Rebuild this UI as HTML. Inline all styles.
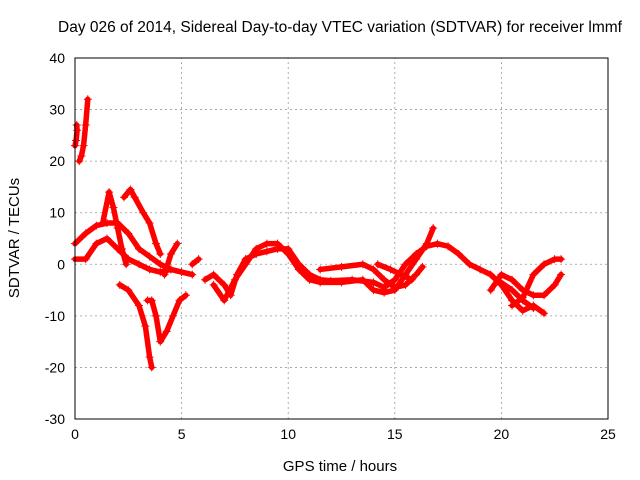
<!DOCTYPE html>
<html><head><meta charset="utf-8"><style>
body{margin:0;background:#fff;}
svg{display:block;font-family:"Liberation Sans",sans-serif;font-size:14px;}
</style></head><body>
<svg id="chart" width="640" height="480" xmlns="http://www.w3.org/2000/svg">
<text x="340" y="32" text-anchor="middle" style="font-size:15.5px">Day 026 of 2014, Sidereal Day-to-day VTEC variation (SDTVAR) for receiver lmmf</text>
<text x="340" y="471" text-anchor="middle" style="font-size:15px">GPS time / hours</text>
<text transform="translate(19,238) rotate(-90)" text-anchor="middle" style="font-size:15px">SDTVAR / TECUs</text>
<g id="grid"></g><g id="data"></g>
<rect x="75" y="58" width="533" height="361" fill="none" stroke="#000"/>
</svg>
<script>
const xTicks=[0,5,10,15,20,25];
const yTicks=[-30,-20,-10,0,10,20,30,40];
const track1=[[0,23],[0.05,24],[0.1,26],[0.08,27]];
const track2=[[0.2,20],[0.3,21],[0.4,23],[0.5,27],[0.6,32]];
const track3=[[0,4],[0.5,6],[1,7.5],[1.5,8],[2,8],[2.5,6],[3,3],[3.5,1.5],[4,0],[4.5,-1],[5,-1.5],[5.5,-2]];
const track4=[[0,1],[0.5,1],[1,4],[1.5,5],[2,3],[2.5,1],[3,0],[3.5,-1],[4,-1.5],[4.5,-1]];
const track5=[[1.3,8],[1.6,14],[1.8,11],[2,7],[2.2,3],[2.4,0]];
const track6=[[2.3,13],[2.6,14.5],[2.8,13],[3.2,10],[3.5,8],[3.8,4],[4,2]];
const track7=[[2.1,-4],[2.5,-5],[3,-8],[3.3,-12],[3.5,-18],[3.6,-20]];
const track8=[[3.4,-7],[3.6,-7],[3.8,-10],[4,-15],[4.3,-13],[4.6,-10],[4.9,-7],[5.2,-6]];
const track9=[[4.2,-2],[4.5,2],[4.8,4]];
const track10=[[5.5,0],[5.8,1]];
const track11=[[6.1,-3],[6.5,-2],[7,-4],[7.3,-6],[7.6,-2],[8,1],[8.5,2],[9,2.5],[9.5,3],[10,3],[10.5,0],[11,-2],[11.5,-3],[12,-3.2],[13,-3],[14,-3.5],[14.5,-4.5],[15,-3],[15.5,0],[16,2],[16.5,3.5],[17,4],[17.5,3.5],[18,2],[18.5,0],[19,-1],[19.5,-2],[20,-4],[20.5,-7],[21,-9],[21.5,-8],[22,-9.5]];
const track12=[[6.5,-4],[7,-7],[7.5,-3],[8,0],[8.5,3],[9,4],[9.5,4],[10,2],[10.5,-1],[11,-3],[11.5,-3.5],[12.5,-3.5],[13.5,-3],[14,-5],[14.5,-5.5],[15,-5],[15.5,-2],[16,1],[16.5,4],[16.8,7]];
const track13=[[11.5,-1],[12.5,-0.5],[13.5,0],[14,-1],[14.5,-3],[15,-4.5],[15.5,-4],[16,-2],[16.3,-0.5]];
const track14=[[14.2,0],[14.8,-1],[15.3,-2],[15.8,-3]];
const track15=[[19.5,-5],[20,-2],[20.5,-3],[21,-5],[21.5,-6],[22,-6],[22.5,-4],[22.8,-2]];
const track16=[[20.5,-8],[21,-6.5],[21.5,-2],[22,0],[22.5,1],[22.8,1]];
const track17=[[19.8,-3],[20.5,-5],[21,-7],[21.5,-8.5]];
const tracks=[track1,track2,track3,track4,track5,track6,track7,track8,track9,track10,track11,track12,track13,track14,track15,track16,track17];
const X0=75,X1=608,Y0=419,Y1=58;
function sx(v){return X0+(v-0)/(25-0)*(X1-X0);}
function sy(v){return Y0-(v+30)/(70)*(Y0-Y1);}
const NS='http://www.w3.org/2000/svg';
const grid=document.getElementById('grid'),svg=document.getElementById('chart'),data=document.getElementById('data');
function mk(t,a,p){const e=document.createElementNS(NS,t);for(const k in a)e.setAttribute(k,a[k]);(p||svg).appendChild(e);return e;}
xTicks.forEach(v=>{
 if(v>0&&v<25){const g=mk('line',{x1:sx(v),x2:sx(v),y1:Y0,y2:Y1,stroke:'#999','stroke-dasharray':'2,3','stroke-width':0.8},grid);
 
 }
 const t=mk('text',{x:sx(v),y:Y0+20,'text-anchor':'middle'});t.textContent=v;
 
 
});
yTicks.forEach(v=>{
 if(v>-30&&v<40){const g=mk('line',{x1:X0,x2:X1,y1:sy(v),y2:sy(v),stroke:'#999','stroke-dasharray':'2,3','stroke-width':0.8},grid);
 
 }
 const t=mk('text',{x:X0-10,y:sy(v)+5,'text-anchor':'end'});t.textContent=v;
 
 
});
tracks.forEach(tr=>{
 const pl=mk('polyline',{points:tr.map(p=>sx(p[0])+','+sy(p[1])).join(' '),fill:'none',stroke:'#f00','stroke-width':5.5,'stroke-linejoin':'round','stroke-linecap':'round'},data);
 
 
 tr.forEach(p=>{
  const x=sx(p[0]),y=sy(p[1]);
  const m=mk('path',{d:`M${x-4},${y}H${x+4}M${x},${y-4}V${y+4}`,stroke:'#f00','stroke-width':1},data);
  
  
 });
});
</script>
</body></html>
